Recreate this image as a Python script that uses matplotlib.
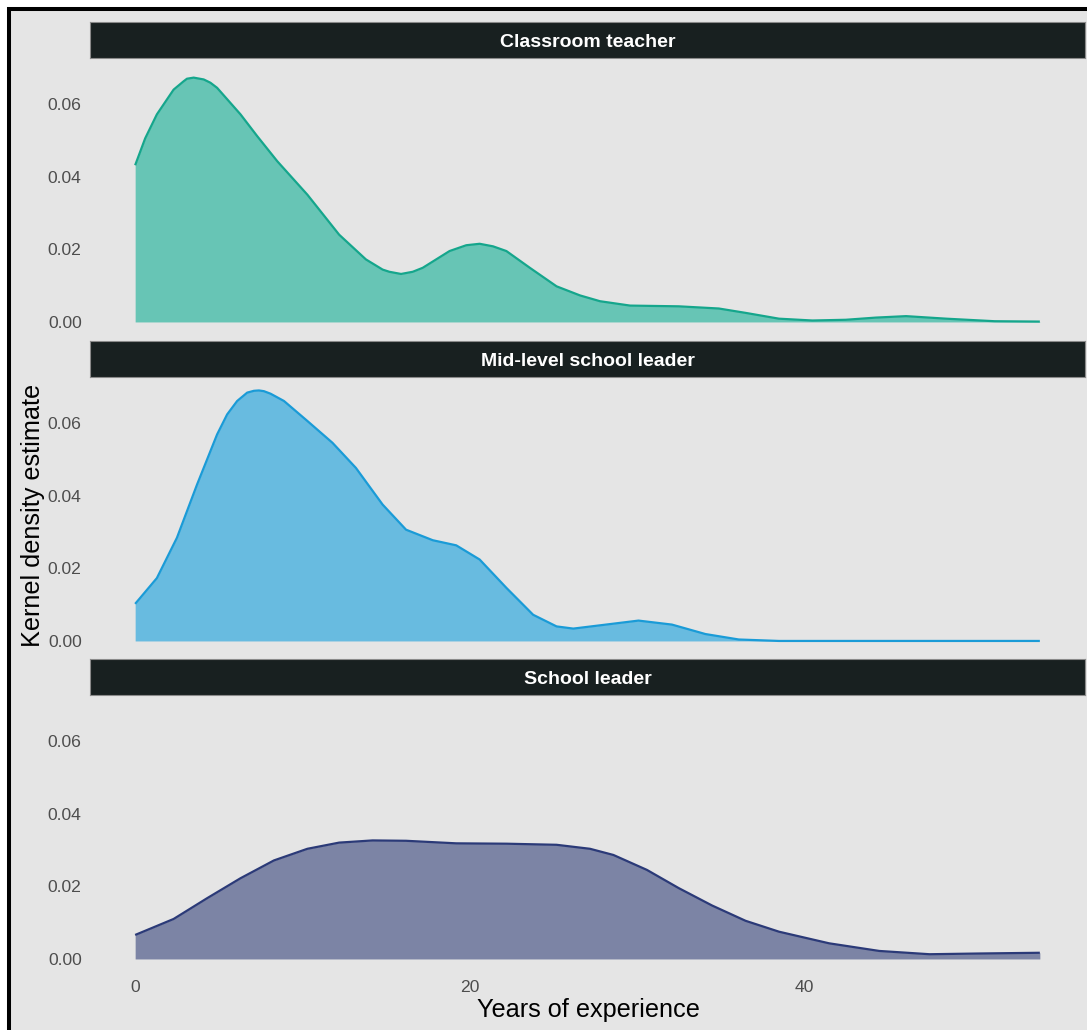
import matplotlib
matplotlib.use('Agg')
import matplotlib.pyplot as plt
from matplotlib.patches import Rectangle

plt.rcParams['font.family'] = ['Liberation Sans', 'DejaVu Sans']

# density curves read per role (years, density)
teacher_years = [0, 0.6, 1.3, 2.3, 2.9, 3.1, 3.5, 4.1, 4.5, 4.9, 6.3, 7.3, 8.5, 10.3, 12.2, 13.8,
                 14.8, 15.2, 15.9, 16.6, 17.2, 18.8, 19.8, 20.6, 21.4, 22.2, 23.6, 25.2, 26.6,
                 27.8, 29.6, 32.5, 34.9, 36.5, 38.5, 40.5, 42.5, 44.3, 46.1, 48.5, 51.4, 54.1]
teacher_density = [0.0431, 0.0505, 0.0571, 0.0639, 0.0662, 0.0669, 0.0672, 0.0667, 0.0658, 0.0644,
                   0.0571, 0.0511, 0.0442, 0.0350, 0.0240, 0.0172, 0.0144, 0.0138, 0.0132, 0.0138,
                   0.0149, 0.0195, 0.0211, 0.0215, 0.0208, 0.0195, 0.0149, 0.0098, 0.0073, 0.0057,
                   0.0045, 0.0043, 0.0037, 0.0025, 0.0009, 0.0004, 0.0006, 0.0012, 0.0016, 0.0009,
                   0.0002, 0.0001]

mid_years = [0, 1.3, 2.5, 3.7, 4.9, 5.5, 6.1, 6.7, 7.1, 7.4, 7.7, 8.1, 8.9, 10.3, 11.8, 13.2,
             14.8, 16.2, 17.8, 19.2, 20.6, 22.2, 23.8, 25.2, 26.2, 27.8, 30.1, 32.1, 34.1, 36.1,
             38.5, 54.1]
mid_density = [0.0102, 0.0173, 0.0284, 0.0430, 0.0568, 0.0623, 0.0660, 0.0683, 0.0688, 0.0689,
               0.0687, 0.0680, 0.0660, 0.0605, 0.0545, 0.0476, 0.0375, 0.0306, 0.0277, 0.0263,
               0.0224, 0.0146, 0.0072, 0.0040, 0.0034, 0.0043, 0.0056, 0.0045, 0.0019, 0.0004,
               0.0000, 0.0000]

leader_years = [0, 2.3, 4.3, 6.3, 8.3, 10.3, 12.2, 14.2, 16.2, 19.2, 22.2, 25.2, 27.2, 28.6,
                30.6, 32.5, 34.5, 36.5, 38.5, 41.5, 44.5, 47.5, 50.5, 54.1]
leader_density = [0.0066, 0.0110, 0.0167, 0.0222, 0.0271, 0.0303, 0.0320, 0.0326, 0.0325, 0.0318,
                  0.0317, 0.0314, 0.0303, 0.0286, 0.0245, 0.0195, 0.0147, 0.0105, 0.0075, 0.0043,
                  0.0022, 0.0013, 0.0015, 0.0017]

roles = ['Classroom teacher', 'Mid-level school leader', 'School leader']
line_colors = ['#15a68c', '#1a9bd7', '#2b3a78']
fill_colors = ['#67c5b5', '#68bbe0', '#7c84a5']
y_ticks = [0.00, 0.02, 0.04, 0.06]
y_labels = ['0.00', '0.02', '0.04', '0.06']
x_ticks = [0, 20, 40]

W, H = 1087, 1030
bg = '#e5e5e5'
fig = plt.figure(figsize=(W / 100, H / 100), dpi=100, facecolor='white')

# grey plot background with black frame on top/left
fig.patches.append(Rectangle((9 / W, -0.05), 1.1, 1 - 9 / H + 0.05, transform=fig.transFigure,
                             facecolor=bg, edgecolor='black', linewidth=2.9, zorder=-5))

series = [(teacher_years, teacher_density), (mid_years, mid_density), (leader_years, leader_density)]
panel_tops = [58, 377, 695]
strip_h = 36
panel_h = 276.5
left, right = 90, 1085

for i, (xs, ys) in enumerate(series):
    top = panel_tops[i]
    ax = fig.add_axes([left / W, 1 - (top + panel_h) / H, (right - left) / W, panel_h / H])
    ax.set_facecolor(bg)
    ax.fill_between(xs, 0, ys, color=fill_colors[i], linewidth=0)
    ax.plot(xs, ys, color=line_colors[i], linewidth=1.6, solid_capstyle='butt',
            solid_joinstyle='round')
    ax.set_xlim(-2.7, 56.8)
    ax.set_ylim(-0.00345, 0.0726)
    for s in ax.spines.values():
        s.set_visible(False)
    ax.set_yticks(y_ticks)
    ax.set_yticklabels(y_labels)
    ax.tick_params(length=0, labelsize=12.6, labelcolor='#4d4d4d', pad=6)
    ax.set_xticks(x_ticks)
    if i < 2:
        ax.set_xticklabels([])

    sax = fig.add_axes([left / W, 1 - top / H, (right - left) / W, strip_h / H])
    sax.set_facecolor('#182020')
    for s in sax.spines.values():
        s.set_color('#8a8a8a')
        s.set_linewidth(0.8)
    sax.set_xticks([])
    sax.set_yticks([])
    sax.text(0.5, 0.42, roles[i], color='white', fontsize=14, fontweight='bold',
             ha='center', va='center', transform=sax.transAxes)

fig.text(588 / W, 1 - 1010 / H, 'Years of experience', fontsize=18.2, ha='center', va='center')
fig.text(33 / W, 1 - 515 / H, 'Kernel density estimate', fontsize=18.2, rotation=90,
         ha='center', va='center')

plt.savefig('out.png', dpi=100, facecolor='white')
